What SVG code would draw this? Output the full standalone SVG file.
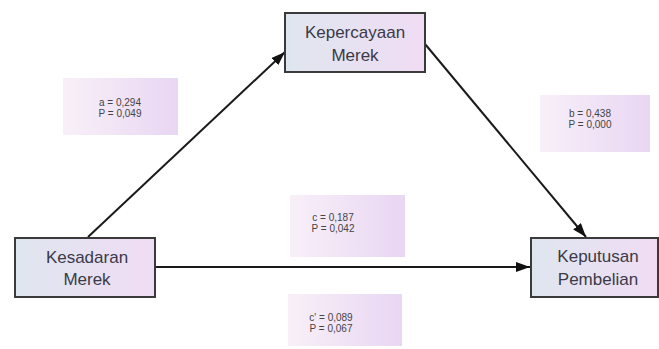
<svg xmlns="http://www.w3.org/2000/svg" width="659" height="349" viewBox="0 0 659 349">
<defs>
<linearGradient id="ng" x1="0" y1="0" x2="1" y2="0">
<stop offset="0" stop-color="#dfe6ef"/>
<stop offset="1" stop-color="#f0dcf4"/>
</linearGradient>
<linearGradient id="lg" x1="0" y1="0" x2="1" y2="0">
<stop offset="0" stop-color="#f8f0f8"/>
<stop offset="1" stop-color="#e9d6f3"/>
</linearGradient>
<marker id="ah" viewBox="0 0 14 10" refX="14" refY="5" markerWidth="14" markerHeight="10" markerUnits="userSpaceOnUse" orient="auto">
<path d="M0,0 L14,5 L0,10 z" fill="#111"/>
</marker>
<style>
.node{fill:url(#ng);stroke:#3a3a3a;stroke-width:2}
.nt{font-family:"Liberation Sans",Arial,sans-serif;font-size:17px;fill:#3a3a48;text-anchor:middle}
.lab{fill:url(#lg);stroke:none}
.lt{font-family:"Liberation Sans",Arial,sans-serif;font-size:10px;fill:#444;text-anchor:middle}
.con{stroke:#1a1a1a;stroke-width:2;fill:none;marker-end:url(#ah)}
</style>
</defs>
<rect width="659" height="349" fill="#ffffff"/>
<g id="labels">
<g id="lab-a"><rect class="lab" x="63" y="78" width="115" height="57"/><text class="lt" x="120" y="106">a = 0,294</text><text class="lt" x="120" y="117">P = 0,049</text></g>
<g id="lab-b"><rect class="lab" x="540" y="95" width="110" height="57"/><text class="lt" x="590" y="117">b = 0,438</text><text class="lt" x="590" y="128">P = 0,000</text></g>
<g id="lab-c"><rect class="lab" x="290" y="195" width="115" height="62"/><text class="lt" x="333" y="221">c = 0,187</text><text class="lt" x="333" y="232">P = 0,042</text></g>
<g id="lab-c2"><rect class="lab" x="288" y="294" width="114" height="52"/><text class="lt" x="331" y="321">c' = 0,089</text><text class="lt" x="331" y="332">P = 0,067</text></g>
</g>
<g id="connectors">
<line class="con" x1="88" y1="237" x2="285" y2="52"/>
<line class="con" x1="425" y1="44" x2="586" y2="237"/>
<line class="con" x1="156" y1="267" x2="530" y2="267"/>
</g>
<g id="n-kepercayaan"><rect class="node" x="285" y="13" width="140" height="59"/><text class="nt" x="355" y="38">Kepercayaan</text><text class="nt" x="355" y="61">Merek</text></g>
<g id="n-kesadaran"><rect class="node" x="15" y="238" width="140" height="59"/><text class="nt" x="87" y="263">Kesadaran</text><text class="nt" x="87" y="285">Merek</text></g>
<g id="n-keputusan"><rect class="node" x="531" y="238" width="127" height="59"/><text class="nt" x="598" y="262">Keputusan</text><text class="nt" x="598" y="285">Pembelian</text></g>
</svg>
